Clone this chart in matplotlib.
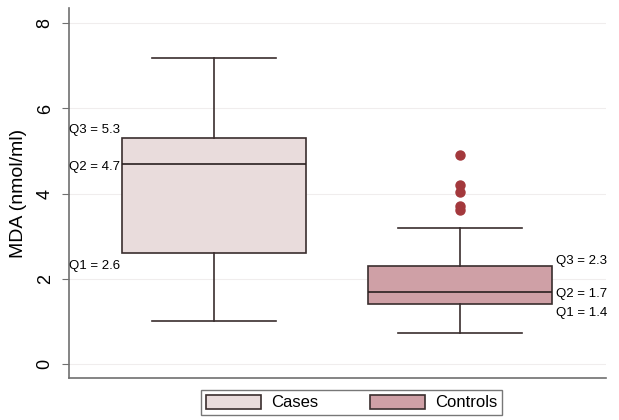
import numpy as np
import matplotlib.pyplot as plt
from matplotlib.patches import Patch

plt.rcParams['font.family'] = ['Liberation Sans', 'DejaVu Sans']

# Resumen de MDA por grupo (nmol/ml)
grupos = ['Cases', 'Controls']
q1 = [2.6, 1.4]
mediana = [4.7, 1.7]
q3 = [5.3, 2.3]
bigote_inf = [1.0, 0.73]
bigote_sup = [7.18, 3.19]
atipicos = [[], [4.9, 4.2, 4.05, 3.72, 3.62]]

colores = ['#e9dcdc', '#cfa0a6']

stats = []
for i in range(len(grupos)):
    stats.append({'label': grupos[i], 'q1': q1[i], 'med': mediana[i], 'q3': q3[i],
                  'whislo': bigote_inf[i], 'whishi': bigote_sup[i],
                  'fliers': np.array(atipicos[i])})

fig = plt.figure(figsize=(6.19, 4.2), dpi=100)
ax = fig.add_axes([69 / 619, 1 - 378 / 420, (606 - 69) / 619, (378 - 8) / 420])

bp = ax.bxp(stats, positions=[1, 2], widths=0.748, patch_artist=True,
            capwidths=0.504,
            boxprops=dict(edgecolor='#3a2e2e', linewidth=1.2),
            medianprops=dict(color='#2a2020', linewidth=1.2),
            whiskerprops=dict(color='#3a2e2e', linewidth=1.2),
            capprops=dict(color='#3a2e2e', linewidth=1.2),
            flierprops=dict(marker='o', markerfacecolor='#a3383c',
                            markeredgecolor='#a3383c', markersize=6.5))
for caja, col in zip(bp['boxes'], colores):
    caja.set_facecolor(col)

# etiquetas de cuartiles
ax.text(0.413, q3[0] + 0.05, f'Q3 = {q3[0]}', fontsize=9.5, va='bottom', ha='left')
ax.text(0.413, mediana[0] - 0.07, f'Q2 = {mediana[0]}', fontsize=9.5, va='center', ha='left')
ax.text(0.413, q1[0] - 0.17, f'Q1 = {q1[0]}', fontsize=9.5, va='top', ha='left')
ax.text(2.39, q3[1] + 0.12, f'Q3 = {q3[1]}', fontsize=9.5, va='center', ha='left')
ax.text(2.39, mediana[1] - 0.05, f'Q2 = {mediana[1]}', fontsize=9.5, va='center', ha='left')
ax.text(2.39, q1[1] - 0.2, f'Q1 = {q1[1]}', fontsize=9.5, va='center', ha='left')

ax.set_xlim(0.411, 2.593)
ax.set_ylim(-0.33, 8.36)
ax.set_yticks([0, 2, 4, 6, 8])
ax.set_yticklabels(['0', '2', '4', '6', '8'], rotation=90, va='center', fontsize=13)
ax.set_xticks([])
ax.set_ylabel('MDA (nmol/ml)', fontsize=14, labelpad=7)
ax.grid(axis='y', color='#f0eded', linewidth=0.8)
ax.set_axisbelow(True)

for lado in ['top', 'right']:
    ax.spines[lado].set_visible(False)
for lado in ['left', 'bottom']:
    ax.spines[lado].set_color('#707070')
    ax.spines[lado].set_linewidth(1.2)
ax.tick_params(axis='y', color='#707070', length=5, pad=6)

manejadores = [Patch(facecolor=c, edgecolor='#3a2e2e', linewidth=1.2) for c in colores]
fig.legend(manejadores, grupos, loc='center', bbox_to_anchor=(351.5 / 619, 1 - 402.5 / 420),
           ncol=2, fontsize=12, frameon=True, fancybox=False, edgecolor='#555555',
           handlelength=3.3, handleheight=0.95, handletextpad=0.6, columnspacing=3.1,
           borderpad=0.3)

plt.savefig('out.png')
